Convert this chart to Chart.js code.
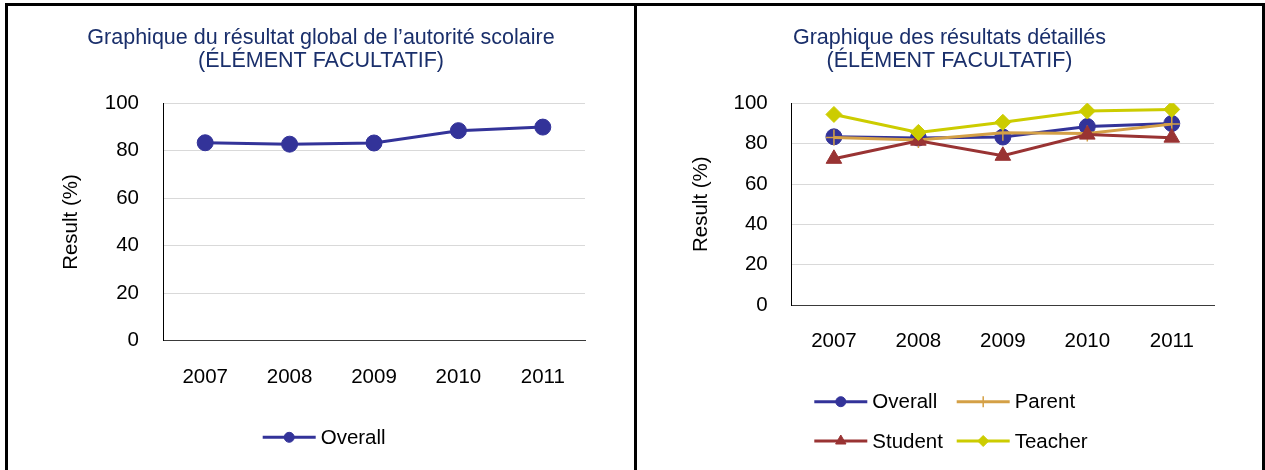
<!DOCTYPE html>
<html>
<head>
<meta charset="utf-8">
<script src="https://cdn.jsdelivr.net/npm/chart.js@4.4.1/dist/chart.umd.min.js"></script>
<style>
  html, body { margin: 0; padding: 0; background: #fff; width: 1265px; height: 470px; overflow: hidden; }
  .b { position: absolute; background: #000; }
  canvas { position: absolute; }
</style>
</head>
<body>
<div class="b" style="left:5px;top:3px;width:1260px;height:3px"></div>
<div class="b" style="left:5px;top:3px;width:3px;height:467px"></div>
<div class="b" style="left:634px;top:3px;width:3px;height:467px"></div>
<div class="b" style="left:1262px;top:3px;width:3px;height:467px"></div>
<canvas id="c1" width="626" height="464" style="left:8px;top:6px;width:626px;height:464px"></canvas>
<canvas id="c2" width="625" height="464" style="left:637px;top:6px;width:625px;height:464px"></canvas>
<script>
// ---- data ----
const years = ['2007', '2008', '2009', '2010', '2011'];
const overall = [83.4, 82.8, 83.3, 88.5, 90.0];
const parent = [83.1, 81.8, 85.4, 85.1, 89.7];
const student = [72.5, 81.5, 74.0, 84.5, 83.0];
const teacher = [94.5, 85.6, 90.6, 96.2, 97.0];
const yTicks = [0, 20, 40, 60, 80, 100];
const title1 = ['Graphique du résultat global de l’autorité scolaire', '(ÉLÉMENT FACULTATIF)'];
const title2 = ['Graphique des résultats détaillés', '(ÉLÉMENT FACULTATIF)'];
const yTitle = 'Result (%)';

const FONT = '"Liberation Sans", Arial, sans-serif';
Chart.defaults.font.family = FONT;
Chart.defaults.color = '#000';

const C_OVERALL = '#333399', C_PARENT = '#D4A046', C_STUDENT = '#993333', C_TEACHER = '#CCCC00';

function ds(label, data, color, style, r, pbw, order) {
  return {
    label, data, borderColor: color, backgroundColor: color,
    pointBackgroundColor: color, pointBorderColor: color,
    pointStyle: style, pointRadius: r, pointHoverRadius: r,
    pointBorderWidth: pbw, borderWidth: 3, tension: 0, order
  };
}

const lineLegend = {
  id: 'lineLegend',
  afterDraw(chart, args, opts) {
    const ctx = chart.ctx;
    ctx.save();
    (opts.items || []).forEach(it => {
      const d = chart.data.datasets[it.index];
      ctx.strokeStyle = d.borderColor;
      ctx.lineWidth = 3;
      ctx.beginPath();
      ctx.moveTo(it.x, it.y);
      ctx.lineTo(it.x + opts.lineLength, it.y);
      ctx.stroke();
      ctx.fillStyle = d.pointBackgroundColor;
      ctx.strokeStyle = d.pointBorderColor;
      ctx.lineWidth = d.pointBorderWidth;
      Chart.helpers.drawPoint(ctx, {pointStyle: d.pointStyle, radius: it.r, borderWidth: d.pointBorderWidth, rotation: 0},
        it.x + opts.lineLength / 2, it.y);
      ctx.fillStyle = '#000';
      ctx.font = '20.5px ' + FONT;
      ctx.textAlign = 'left';
      ctx.textBaseline = 'middle';
      ctx.fillText(d.label, it.x + opts.lineLength + opts.gap, it.y + 1);
    });
    ctx.restore();
  }
};

function makeOptions(titleLines, yWidth, yTitlePad, xHeight, padSide, legendItems) {
  return {
    responsive: false,
    animation: false,
    devicePixelRatio: 1,
    layout: { padding: { left: padSide, right: padSide, top: 0, bottom: 0 } },
    plugins: {
      legend: { display: false },
      tooltip: { enabled: false },
      title: {
        display: true, text: titleLines, color: '#1a2f6b',
        font: { size: 21.5, weight: 'normal', lineHeight: 1.085 },
        padding: { top: 20, bottom: 30.7 }
      },
      lineLegend: { lineLength: 53, gap: 5, items: legendItems }
    },
    scales: {
      x: {
        type: 'category', offset: true,
        grid: { display: false, drawTicks: false },
        border: { display: true, color: '#3a3a3a', width: 1 },
        ticks: { padding: 24, font: { size: 20.5 }, color: '#000', maxRotation: 0 },
        afterFit: s => { s.height = xHeight; }
      },
      y: {
        min: 0, max: 100,
        afterBuildTicks: s => { s.ticks = yTicks.map(v => ({ value: v })); },
        grid: { color: '#d9d9d9', lineWidth: 1, drawTicks: false },
        border: { display: true, color: '#000', width: 1 },
        ticks: { padding: 24, font: { size: 20.5 }, color: '#000' },
        title: { display: true, text: yTitle, font: { size: 20.5 }, color: '#000', padding: { top: yTitlePad, bottom: 0 } },
        afterFit: s => { s.width = yWidth; }
      }
    }
  };
}

// left chart: canvas width 626, plot from 154.7 to 577 (padding 49 each side)
new Chart(document.getElementById('c1'), {
  type: 'line',
  data: { labels: years, datasets: [ ds('Overall', overall, C_OVERALL, 'circle', 8, 1, 1) ] },
  options: makeOptions(title1, 155 - 49, 51.4 - 49, 129.3, 49,
    [{ index: 0, x: 254.7, y: 431.3, r: 5 }]),
  plugins: [lineLegend]
});

// right chart: canvas width 625, plot from 154.7 to 577 (padding 48 each side)
new Chart(document.getElementById('c2'), {
  type: 'line',
  data: { labels: years, datasets: [
    ds('Overall', overall, C_OVERALL, 'circle', 8, 1, 4),
    ds('Parent', parent, C_PARENT, 'cross', 8, 1.5, 3),
    ds('Student', student, C_STUDENT, 'triangle', 9, 1, 2),
    ds('Teacher', teacher, C_TEACHER, 'rectRot', 8, 1, 1)
  ] },
  options: makeOptions(title2, 154.7 - 48, 52.4 - 48, 165, 48, [
    { index: 0, x: 177.3, y: 395.7, r: 5 },
    { index: 1, x: 319.7, y: 395.7, r: 5.5 },
    { index: 2, x: 177.3, y: 435, r: 6 },
    { index: 3, x: 319.7, y: 435, r: 5.5 }
  ]),
  plugins: [lineLegend]
});
</script>
</body>
</html>
